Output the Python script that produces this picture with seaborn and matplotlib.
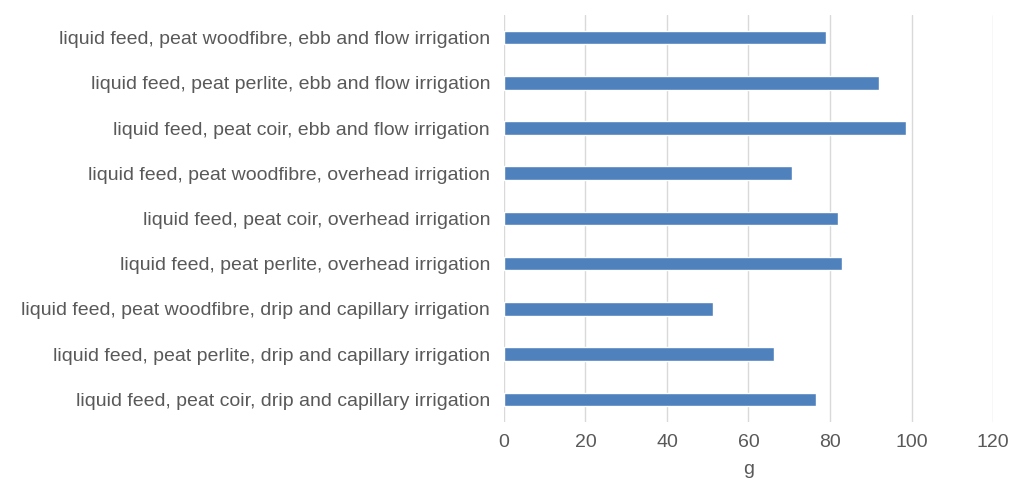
import matplotlib
matplotlib.use("Agg")
import matplotlib.pyplot as plt
import seaborn as sns
import pandas as pd

categories = [
    "liquid feed, peat woodfibre, ebb and flow irrigation",
    "liquid feed, peat perlite, ebb and flow irrigation",
    "liquid feed, peat coir, ebb and flow irrigation",
    "liquid feed, peat woodfibre, overhead irrigation",
    "liquid feed, peat coir, overhead irrigation",
    "liquid feed, peat perlite, overhead irrigation",
    "liquid feed, peat woodfibre, drip and capillary irrigation",
    "liquid feed, peat perlite, drip and capillary irrigation",
    "liquid feed, peat coir, drip and capillary irrigation",
]
values = [79.0, 92.0, 98.6, 70.7, 81.9, 83.0, 51.2, 66.3, 76.5]
x_ticks = [0, 20, 40, 60, 80, 100, 120]
x_label = "g"

sns.set_theme(style="white")
plt.rcParams["font.family"] = ["Liberation Sans", "DejaVu Sans"]

text_color = "#595959"
grid_color = "#d9d9d9"
bar_color = "#4f81bd"

df = pd.DataFrame({"category": categories, "value": values})

fig = plt.figure(figsize=(10.11, 4.83), dpi=100)
ax = fig.add_axes([0.4985, 0.1263, 0.4837, 0.8427])

sns.barplot(data=df, y="category", x="value", orient="h", color=bar_color,
            width=0.3, saturation=1, ax=ax, zorder=3)

ax.set_xlim(0, 120)
ax.set_xticks(x_ticks)
ax.set_ylim(len(categories) - 0.5, -0.5)
ax.xaxis.grid(True, color=grid_color, linewidth=1, zorder=0)
ax.yaxis.grid(False)
for s in ax.spines.values():
    s.set_visible(False)

ax.tick_params(axis="x", length=5, width=1, color=grid_color, labelsize=14,
               labelcolor=text_color, pad=4)
ax.tick_params(axis="y", length=0, labelsize=14, labelcolor=text_color, pad=10)
ax.set_ylabel("")
ax.set_xlabel(x_label, fontsize=14, color=text_color, labelpad=7)

fig.savefig("out.png", dpi=100)
